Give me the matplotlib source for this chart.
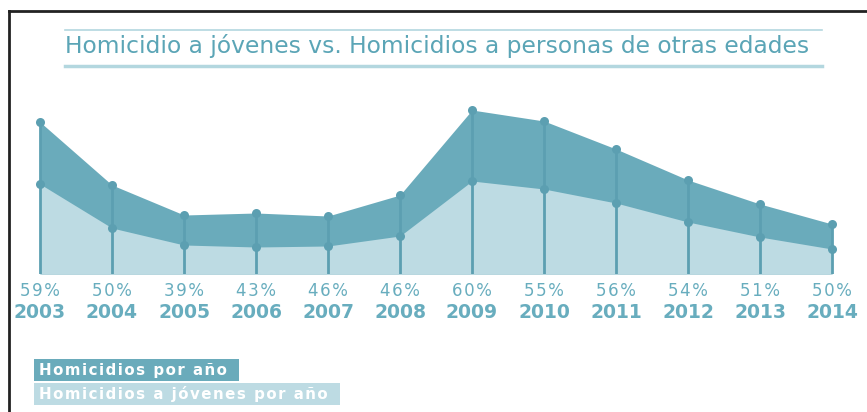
import numpy as np
import matplotlib
matplotlib.use("Agg")
import matplotlib.pyplot as plt
from matplotlib.lines import Line2D
from matplotlib.patches import Rectangle

# datos (unidades relativas)
anios = ["2003", "2004", "2005", "2006", "2007", "2008",
         "2009", "2010", "2011", "2012", "2013", "2014"]
porcentajes = ["59%", "50%", "39%", "43%", "46%", "46%",
               "60%", "55%", "56%", "54%", "51%", "50%"]
homicidios = [152, 89, 59, 61, 58, 79, 164, 153, 125, 94, 70, 50]
homicidios_jovenes = [90, 46, 29, 27, 28, 38, 93, 85, 71, 52, 37, 25]

c_oscuro = "#6aabbb"
c_claro = "#bddbe3"
c_linea = "#5c9fb1"
c_titulo = "#5ba5b6"
c_texto = "#68adbe"

W, H = 867, 412
fig = plt.figure(figsize=(W / 100, H / 100), dpi=100)

def fy(py):
    return 1 - py / H

def espaciado(s):
    # letras un poco separadas, como en el original
    return "\u200a".join(s)

# ejes: base en y=274px, x0 en 40px, paso 72px
base_px = 274
top_px = 90
ax = fig.add_axes([0, fy(base_px), 1, (base_px - top_px) / H])
x = np.arange(len(anios))
ax.set_xlim(-40 / 72, 11 + (W - 832) / 72)
ax.set_ylim(0, base_px - top_px)
ax.axis("off")

ax.fill_between(x, 0, homicidios, color=c_oscuro, lw=0)
ax.fill_between(x, 0, homicidios_jovenes, color=c_claro, lw=0)
ax.vlines(x, 0, homicidios, color=c_linea, lw=2.0)
ax.plot(x, homicidios, "o", color=c_linea, ms=6.5, mec="none")
ax.plot(x, homicidios_jovenes, "o", color=c_linea, ms=6.5, mec="none")

# etiquetas de porcentaje y anio
for i in range(len(anios)):
    xf = (40 + 72 * i) / W
    fig.text(xf, fy(291), espaciado(porcentajes[i]), ha="center", va="center",
             fontsize=12, color=c_texto, fontweight="medium")
    fig.text(xf, fy(313), anios[i], ha="center", va="center",
             fontsize=13.5, color=c_texto, fontweight="bold")

# titulo con lineas
fig.text(65 / W, fy(46), "Homicidio a jóvenes vs. Homicidios a personas de otras edades",
         ha="left", va="center", fontsize=16.8, color=c_titulo)
fig.add_artist(Line2D([65 / W, 822 / W], [fy(30), fy(30)], color="#b3d7df", lw=1.2))
fig.add_artist(Line2D([65 / W, 822 / W], [fy(66), fy(66)], color="#b3d7df", lw=2.5))

# marco
fig.add_artist(Line2D([9 / W, 1], [fy(11), fy(11)], color="#222222", lw=2))
fig.add_artist(Line2D([9 / W, 9 / W], [fy(11), 0], color="#222222", lw=2))

# leyenda
fig.add_artist(Rectangle((34 / W, fy(381)), (239 - 34) / W, 22 / H,
                         transform=fig.transFigure, color=c_oscuro, lw=0))
fig.add_artist(Rectangle((34 / W, fy(405)), (340 - 34) / W, 22 / H,
                         transform=fig.transFigure, color=c_claro, lw=0))
fig.text(39 / W, fy(370), espaciado("Homicidios por año"), ha="left", va="center",
         fontsize=10.8, color="white", fontweight="bold")
fig.text(39 / W, fy(394), espaciado("Homicidios a jóvenes por año"), ha="left", va="center",
         fontsize=10.8, color="white", fontweight="bold")

fig.savefig("out.png", dpi=100)
